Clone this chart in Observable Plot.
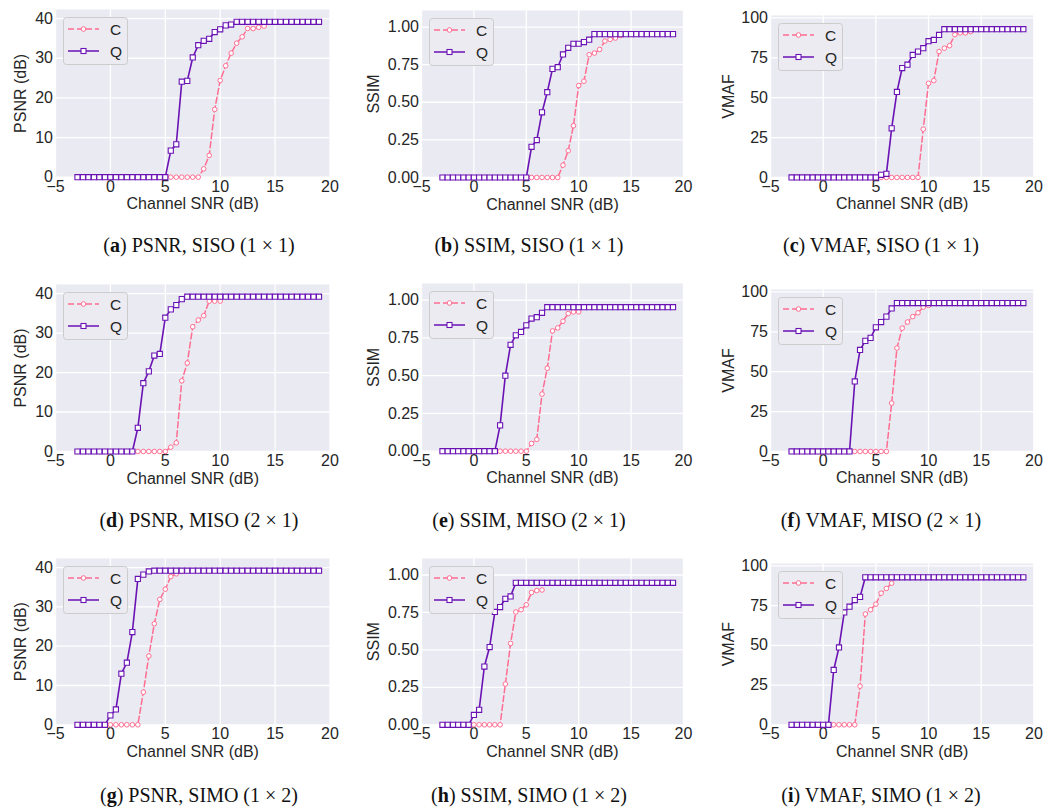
<!DOCTYPE html>
<html><head><meta charset="utf-8">
<script src="https://cdn.jsdelivr.net/npm/d3@7"></script>
<script src="https://cdn.jsdelivr.net/npm/@observablehq/plot@0.6"></script>
<style>
body{margin:0;background:#fff;}
#root{position:relative;width:1056px;height:811px;overflow:hidden;background:#fff;}
#root svg{position:absolute;}
</style></head><body><div id="root"></div>
<script>
// Channel SNR (dB) sample points
const snr = [-3,-2.5,-2,-1.5,-1,-0.5,0,0.5,1,1.5,2,2.5,3,3.5,4,4.5,5,5.5,6,6.5,7,7.5,8,8.5,9,9.5,10,10.5,11,11.5,12,12.5,13,13.5,14,14.5,15,15.5,16,16.5,17,17.5,18,18.5,19];
const xTicks = [-5,0,5,10,15,20];
const psnrTicks = [0,10,20,30,40];
const ssimTicks = [0,0.25,0.5,0.75,1];
const vmafTicks = [0,25,50,75,100];
const seriesNames = ["C","Q"];

// SISO (1x1)
const psnrSisoQ = [0,0,0,0,0,0,0,0,0,0,0,0,0,0,0,0,0,6.7,8.3,24.1,24.3,30.2,33.3,34.4,34.9,36.6,37.3,38.3,38.5,39.2,39.2,39.2,39.2,39.2,39.2,39.2,39.2,39.2,39.2,39.2,39.2,39.2,39.2,39.2,39.2];
const psnrSisoC = [0,0,0,0,0,0,0,0,0,0,0,0,0,0,0,0,0,0,0,0,0,0,0,2.1,5.5,17.1,24.4,28.1,31.3,33.8,35.4,37.5,37.5,37.8,38.1];
const ssimSisoQ = [0,0,0,0,0,0,0,0,0,0,0,0,0,0,0,0,0,0.204,0.249,0.433,0.567,0.722,0.733,0.818,0.862,0.889,0.889,0.9,0.916,0.953,0.953,0.953,0.953,0.953,0.953,0.953,0.953,0.953,0.953,0.953,0.953,0.953,0.953,0.953,0.953];
const ssimSisoC = [0,0,0,0,0,0,0,0,0,0,0,0,0,0,0,0,0,0,0,0,0,0,0,0.082,0.178,0.344,0.611,0.64,0.816,0.827,0.851,0.907,0.918,0.927,0.944];
const vmafSisoQ = [0,0,0,0,0,0,0,0,0,0,0,0,0,0,0,0,0,1.7,2.3,30.8,53.6,68.6,70.7,76.8,78.9,81.0,85.4,86.2,89.3,92.9,92.9,92.9,92.9,92.9,92.9,92.9,92.9,92.9,92.9,92.9,92.9,92.9,92.9,92.9,92.9];
const vmafSisoC = [0,0,0,0,0,0,0,0,0,0,0,0,0,0,0,0,0,0,0,0,0,0,0,0,0,30.3,59.0,60.7,78.9,81.0,82.6,89.5,90.6,90.6,91.4];
// MISO (2x1)
const psnrMisoQ = [0,0,0,0,0,0,0,0,0,0,0,6.0,17.3,20.3,24.3,24.7,33.9,36.0,37.1,38.6,39.2,39.2,39.2,39.2,39.2,39.2,39.2,39.2,39.2,39.2,39.2,39.2,39.2,39.2,39.2,39.2,39.2,39.2,39.2,39.2,39.2,39.2,39.2,39.2,39.2];
const psnrMisoC = [0,0,0,0,0,0,0,0,0,0,0,0,0,0,0,0,0,1.1,2.2,17.9,22.4,31.6,33.3,34.4,38.1,38.1,38.1];
const ssimMisoQ = [0,0,0,0,0,0,0,0,0,0,0,0.171,0.5,0.704,0.767,0.789,0.833,0.878,0.887,0.916,0.953,0.953,0.953,0.953,0.953,0.953,0.953,0.953,0.953,0.953,0.953,0.953,0.953,0.953,0.953,0.953,0.953,0.953,0.953,0.953,0.953,0.953,0.953,0.953,0.953];
const ssimMisoC = [0,0,0,0,0,0,0,0,0,0,0,0,0,0,0,0,0,0.051,0.078,0.378,0.549,0.796,0.816,0.86,0.911,0.922,0.922];
const vmafMisoQ = [0,0,0,0,0,0,0,0,0,0,0,0,43.9,63.6,69.3,71.2,77.8,81.1,84.5,89.6,93.0,93.0,93.0,93.0,93.0,93.0,93.0,93.0,93.0,93.0,93.0,93.0,93.0,93.0,93.0,93.0,93.0,93.0,93.0,93.0,93.0,93.0,93.0,93.0,93.0];
const vmafMisoC = [0,0,0,0,0,0,0,0,0,0,0,0,0,0,0,0,0,0,0,30.3,64.8,77.3,81.1,84.5,86.9,90.5,91.5];
// SIMO (1x2)
const psnrSimoQ = [0,0,0,0,0,0,2.4,3.9,13.0,15.8,23.6,37.1,38.2,39.0,39.2,39.2,39.2,39.2,39.2,39.2,39.2,39.2,39.2,39.2,39.2,39.2,39.2,39.2,39.2,39.2,39.2,39.2,39.2,39.2,39.2,39.2,39.2,39.2,39.2,39.2,39.2,39.2,39.2,39.2,39.2];
const psnrSimoC = [0,0,0,0,0,0,0,0,0,0,0,0,8.3,17.5,25.7,31.9,34.5,37.7,38.4,39.0];
const ssimSimoQ = [0,0,0,0,0,0,0.066,0.1,0.389,0.519,0.753,0.786,0.841,0.857,0.948,0.948,0.948,0.948,0.948,0.948,0.948,0.948,0.948,0.948,0.948,0.948,0.948,0.948,0.948,0.948,0.948,0.948,0.948,0.948,0.948,0.948,0.948,0.948,0.948,0.948,0.948,0.948,0.948,0.948,0.948];
const ssimSimoC = [0,0,0,0,0,0,0,0,0,0,0,0,0.272,0.543,0.753,0.768,0.801,0.883,0.896,0.9];
const vmafSimoQ = [0,0,0,0,0,0,0,0,34.5,48.7,70.7,74.3,78.5,80.5,92.8,92.8,92.8,92.8,92.8,92.8,92.8,92.8,92.8,92.8,92.8,92.8,92.8,92.8,92.8,92.8,92.8,92.8,92.8,92.8,92.8,92.8,92.8,92.8,92.8,92.8,92.8,92.8,92.8,92.8,92.8];
const vmafSimoC = [0,0,0,0,0,0,0,0,0,0,0,0,0,24.3,69.7,72.4,75.9,82.8,85.8,89.1];

const captions = [
  ["a","PSNR, SISO (1 × 1)"],["b","SSIM, SISO (1 × 1)"],["c","VMAF, SISO (1 × 1)"],
  ["d","PSNR, MISO (2 × 1)"],["e","SSIM, MISO (2 × 1)"],["f","VMAF, MISO (2 × 1)"],
  ["g","PSNR, SIMO (1 × 2)"],["h","SSIM, SIMO (1 × 2)"],["i","VMAF, SIMO (1 × 2)"]
];

const PINK = "#ff6e92", PURPLE = "#6a12b4";
const metrics = {
  psnr:{label:"PSNR (dB)", ticks:psnrTicks, fmt:d3.format("d"), ymax:42.3, lo:41},
  ssim:{label:"SSIM", ticks:ssimTicks, fmt:d3.format(".2f"), ymax:1.11, lo:54},
  vmaf:{label:"VMAF", ticks:vmafTicks, fmt:d3.format("d"), ymax:101.5, lo:48}
};
const cols = [{left:54.5,right:329,cx:199},{left:421,right:683,cx:529},{left:769.6,right:1033,cx:881}];
const rows = [{bottom:177,tops:[9.3,10,15],base:252},{bottom:451,tops:[284,283.3,289],base:527},{bottom:724.3,tops:[558,558,563],base:802}];
const panels = [
  [psnrSisoQ,psnrSisoC,"psnr"],[ssimSisoQ,ssimSisoC,"ssim"],[vmafSisoQ,vmafSisoC,"vmaf"],
  [psnrMisoQ,psnrMisoC,"psnr"],[ssimMisoQ,ssimMisoC,"ssim"],[vmafMisoQ,vmafMisoC,"vmaf"],
  [psnrSimoQ,psnrSimoC,"psnr"],[ssimSimoQ,ssimSimoC,"ssim"],[vmafSimoQ,vmafSimoC,"vmaf"]
];

const root = document.getElementById("root");
const ml=64, mr=8, mt=6, mb=44;

panels.forEach(([q,c,mk],k)=>{
  const col = cols[k%3], row = rows[Math.floor(k/3)], m = metrics[mk];
  const top = row.tops[k%3];
  const W = col.right-col.left, H = row.bottom-top;
  const dataQ = q.map((y,i)=>({x:snr[i], y}));
  const dataC = c.map((y,i)=>({x:snr[i], y}));
  const chart = Plot.plot({
    width:W+ml+mr, height:H+mt+mb, marginLeft:ml, marginRight:mr, marginTop:mt, marginBottom:mb,
    x:{domain:[-5,20]}, y:{domain:[0,m.ymax]},
    style:{fontFamily:"'Liberation Sans', Arial, sans-serif", fontSize:"16px", color:"#262626", background:"transparent", overflow:"visible"},
    marks:[
      Plot.frame({fill:"#EAEAF2", stroke:"none"}),
      Plot.gridX(xTicks,{stroke:"#fff", strokeOpacity:1, strokeWidth:1.3}),
      Plot.gridY(m.ticks,{stroke:"#fff", strokeOpacity:1, strokeWidth:1.3}),
      Plot.axisX(xTicks,{tickSize:0, tickPadding:3, label:"Channel SNR (dB)", labelAnchor:"center", labelOffset:32, labelArrow:"none"}),
      Plot.axisY(m.ticks,{tickSize:0, tickPadding:2.5, tickFormat:m.fmt, label:m.label, labelAnchor:"center", labelOffset:m.lo, labelArrow:"none"}),
      Plot.line(dataC,{x:"x", y:"y", stroke:PINK, strokeWidth:1.5, strokeDasharray:"6,3"}),
      Plot.dot(dataC,{x:"x", y:"y", r:2.3, fill:"white", stroke:PINK, strokeWidth:1}),
      Plot.line(dataQ,{x:"x", y:"y", stroke:PURPLE, strokeWidth:1.6}),
      Plot.dot(dataQ,{x:"x", y:"y", symbol:"square", r:2.9, fill:"white", stroke:PURPLE, strokeWidth:1.1})
    ]
  });
  chart.style.left = (col.left-ml)+"px";
  chart.style.top = (top-mt)+"px";
  root.appendChild(chart);

  // legend
  const lg = d3.create("svg").attr("width",66).attr("height",49)
    .style("left",(col.left+8)+"px").style("top",(top+8)+"px");
  lg.append("rect").attr("x",0.5).attr("y",0.5).attr("width",64).attr("height",47).attr("rx",3)
    .attr("fill","#EBEBF1").attr("stroke","#CCCCCC");
  seriesNames.forEach((name,j)=>{
    const yy = j===0?12:34, col2 = j===0?PINK:PURPLE;
    lg.append("line").attr("x1",5).attr("x2",36).attr("y1",yy).attr("y2",yy)
      .attr("stroke",col2).attr("stroke-width",1.5).attr("stroke-dasharray",j===0?"6,3":null);
    if(j===0) lg.append("circle").attr("cx",20.5).attr("cy",yy).attr("r",2.3).attr("fill","white").attr("stroke",col2);
    else lg.append("rect").attr("x",18).attr("y",yy-2.5).attr("width",5).attr("height",5).attr("fill","white").attr("stroke",col2).attr("stroke-width",1.1);
    lg.append("text").attr("x",47).attr("y",yy).attr("dy","0.36em").attr("fill","#262626")
      .style("font-family","'Liberation Sans', Arial, sans-serif").style("font-size","15.5px").text(name);
  });
  root.appendChild(lg.node());
});

// captions
const cap = d3.create("svg").attr("width",1056).attr("height",811).style("left","0px").style("top","0px").style("pointer-events","none");
captions.forEach(([l,t],k)=>{
  const col = cols[k%3], row = rows[Math.floor(k/3)];
  const tx = cap.append("text").attr("x",col.cx).attr("y",row.base).attr("text-anchor","middle")
    .attr("fill","#111").style("font-family","'Liberation Serif', 'DejaVu Serif', serif").style("font-size","20px");
  tx.append("tspan").text("(");
  tx.append("tspan").attr("font-weight","bold").text(l);
  tx.append("tspan").text(") "+t);
});
root.appendChild(cap.node());
</script></body></html>
